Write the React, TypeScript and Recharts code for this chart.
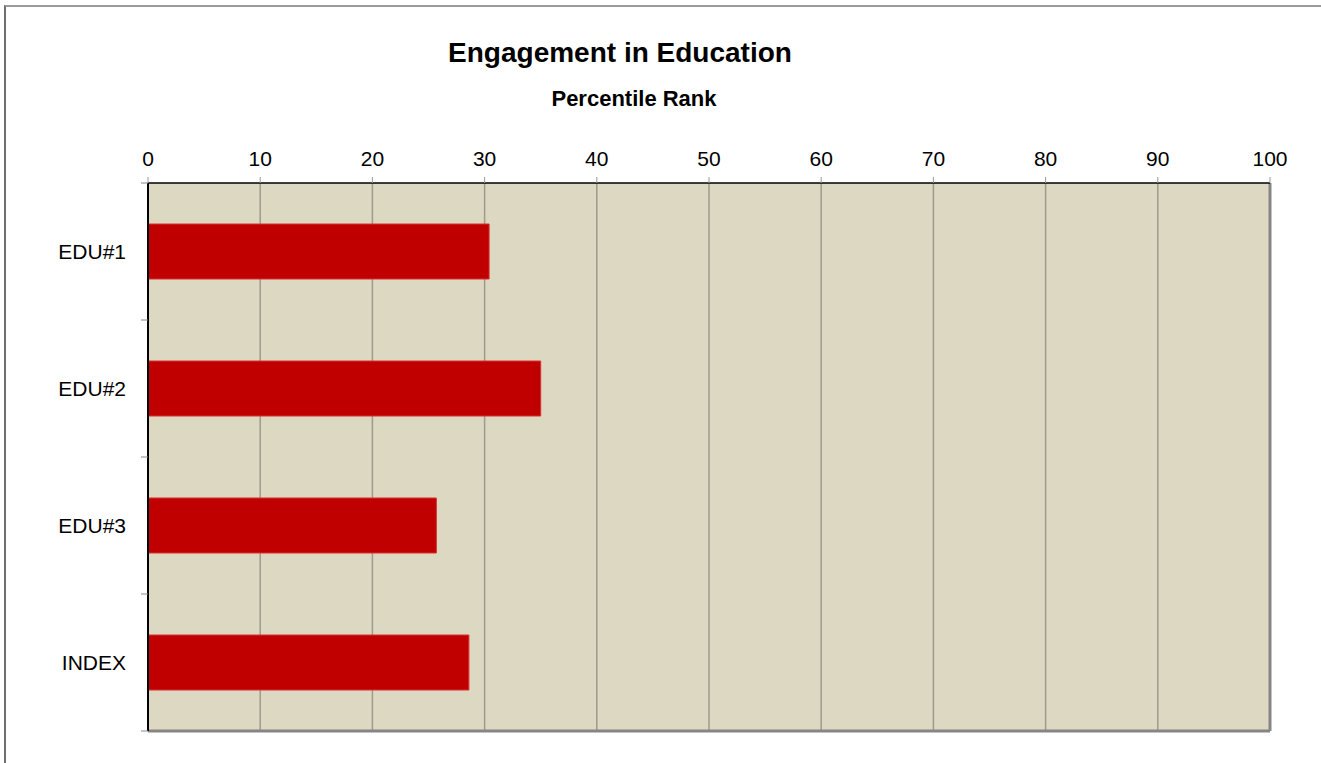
import { BarChart, Bar, XAxis, YAxis, CartesianGrid, ReferenceLine } from 'recharts'

const categories = ['EDU#1', 'EDU#2', 'EDU#3', 'INDEX']
const percentileRank = [30.4, 35.0, 25.7, 28.6]
const xTicks = [0, 10, 20, 30, 40, 50, 60, 70, 80, 90, 100]

const data = categories.map((name, i) => ({ name, value: percentileRank[i] }))

const FONT = "'Liberation Sans', Arial, Helvetica, sans-serif"
const W = 1321
const H = 763
const PLOT_LEFT = 148

function CategoryTick(props: any) {
  const { x, y, payload, index } = props
  const off = payload.offset ?? 0
  return (
    <g>
      <text x={x + 6} y={y} dy={7} textAnchor="end" fontSize={21} fontFamily={FONT} fill="#000">
        {payload.value}
      </text>
      <line x1={PLOT_LEFT - 7} x2={PLOT_LEFT} y1={y + off} y2={y + off} stroke="#888" strokeWidth={1} />
      {index === 0 && (
        <line x1={PLOT_LEFT - 7} x2={PLOT_LEFT} y1={y - off} y2={y - off} stroke="#888" strokeWidth={1} />
      )}
    </g>
  )
}

export default function App() {
  return (
    <div style={{ position: 'fixed', left: 0, top: 0, width: W, height: H, overflow: 'hidden', background: '#fff' }}>
      <div style={{
        position: 'absolute', left: 4, top: 5, width: 1400, height: 800,
        borderTop: '2px solid #9a9a9a', borderLeft: '2px solid #6e6e6e',
      }} />
      <div style={{ position: 'absolute', left: 0, top: 0 }}>
        <BarChart
          width={W}
          height={H}
          data={data}
          layout="vertical"
          margin={{ top: 153, right: 51, bottom: 30, left: 0 }}
        >
          <CartesianGrid xAxisId="t" horizontal={false} vertical stroke="#9d9b8c" strokeWidth={1.5} fill="#DDD8C2" fillOpacity={1} />
          <XAxis
            xAxisId="t"
            type="number"
            orientation="top"
            domain={[0, 100]}
            ticks={xTicks}
            height={30}
            tickSize={6}
            tickMargin={11}
            tick={{ fontSize: 21, fontFamily: FONT, fill: '#000' }}
            tickLine={{ stroke: '#999' }}
            axisLine={{ stroke: '#000', strokeWidth: 1.5 }}
          />
          <XAxis
            xAxisId="b"
            type="number"
            orientation="bottom"
            domain={[0, 100]}
            height={2}
            tick={false}
            tickLine={false}
            axisLine={{ stroke: '#858585', strokeWidth: 3 }}
          />
          <YAxis
            type="category"
            dataKey="name"
            width={PLOT_LEFT}
            tickLine={false}
            tickMargin={22}
            tick={<CategoryTick />}
            axisLine={{ stroke: '#000', strokeWidth: 2 }}
          />
          <ReferenceLine xAxisId="t" x={100} stroke="#858585" strokeWidth={3} />
          <Bar
            xAxisId="t"
            dataKey="value"
            fill="#C00000"
            stroke="#D83030"
            strokeWidth={1}
            barSize={55}
            isAnimationActive={false}
          />
        </BarChart>
      </div>
      <svg width={W} height={H} style={{ position: 'absolute', left: 0, top: 0, pointerEvents: 'none' }}>
        <text x={620} y={62} textAnchor="middle" fontSize={28} fontWeight="bold" fontFamily={FONT} fill="#000">
          Engagement in Education
        </text>
        <text x={634} y={106} textAnchor="middle" fontSize={22} fontWeight="bold" fontFamily={FONT} fill="#000">
          Percentile Rank
        </text>
      </svg>
    </div>
  )
}
